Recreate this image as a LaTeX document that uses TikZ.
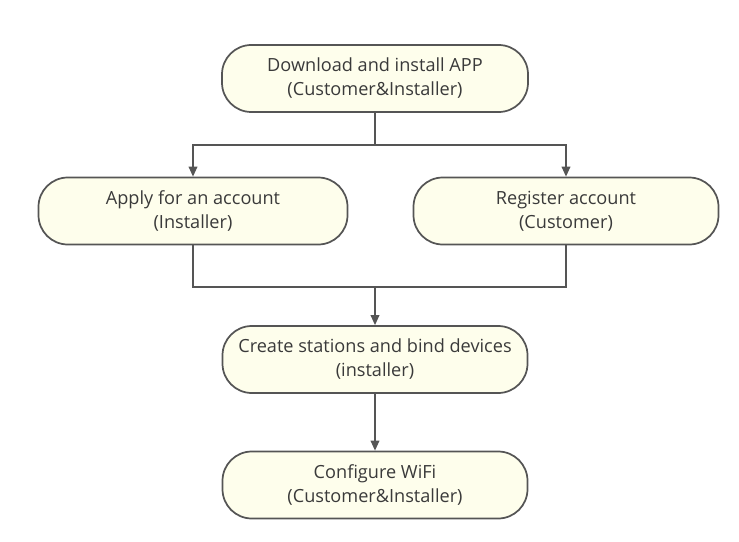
\documentclass[tikz,border=0pt]{standalone}
\usepackage{fontspec}
\setmainfont{Open Sans}
\usetikzlibrary{arrows.meta}
\definecolor{boxfill}{HTML}{FEFEEC}
\definecolor{boxline}{HTML}{555555}
\definecolor{txt}{HTML}{3A3A3A}
\begin{document}
\begin{tikzpicture}[x=0.75pt,y=-0.75pt,
  flowbox/.style={draw=boxline,line width=1.3pt,fill=boxfill,rounded corners=22pt,
    minimum height=50.25pt,align=center,text=txt,font=\fontsize{13.6pt}{18pt}\selectfont,inner sep=0pt},
  conn/.style={draw=boxline,line width=1.1pt},
  arr/.style={conn,-{Triangle[length=7.5pt,width=6.5pt]}}]
\useasboundingbox (0,0) rectangle (739,542);
\node[flowbox,minimum width=229.5pt] (dl) at (375,78.5) {Download and install APP\\(Customer\&Installer)};
\node[flowbox,minimum width=231.75pt] (ap) at (193,211) {Apply for an account\\(Installer)};
\node[flowbox,minimum width=228.75pt] (rg) at (566,211) {Register account\\(Customer)};
\node[flowbox,minimum width=228.75pt] (cs) at (375,359.5) {Create stations and bind devices\\(installer)};
\node[flowbox,minimum width=228.75pt] (cw) at (375,485) {Configure WiFi\\(Customer\&Installer)};
\coordinate (split) at (375,145);
\coordinate (merge) at (375,287);
\draw[conn] (dl.south) -- (split);
\draw[arr] (split) -| (ap.north);
\draw[arr] (split) -| (rg.north);
\draw[conn] (ap.south) |- (merge);
\draw[conn] (rg.south) |- (merge);
\draw[arr] (merge) -- (cs.north);
\draw[arr] (cs.south) -- (cw.north);
\end{tikzpicture}
\end{document}
